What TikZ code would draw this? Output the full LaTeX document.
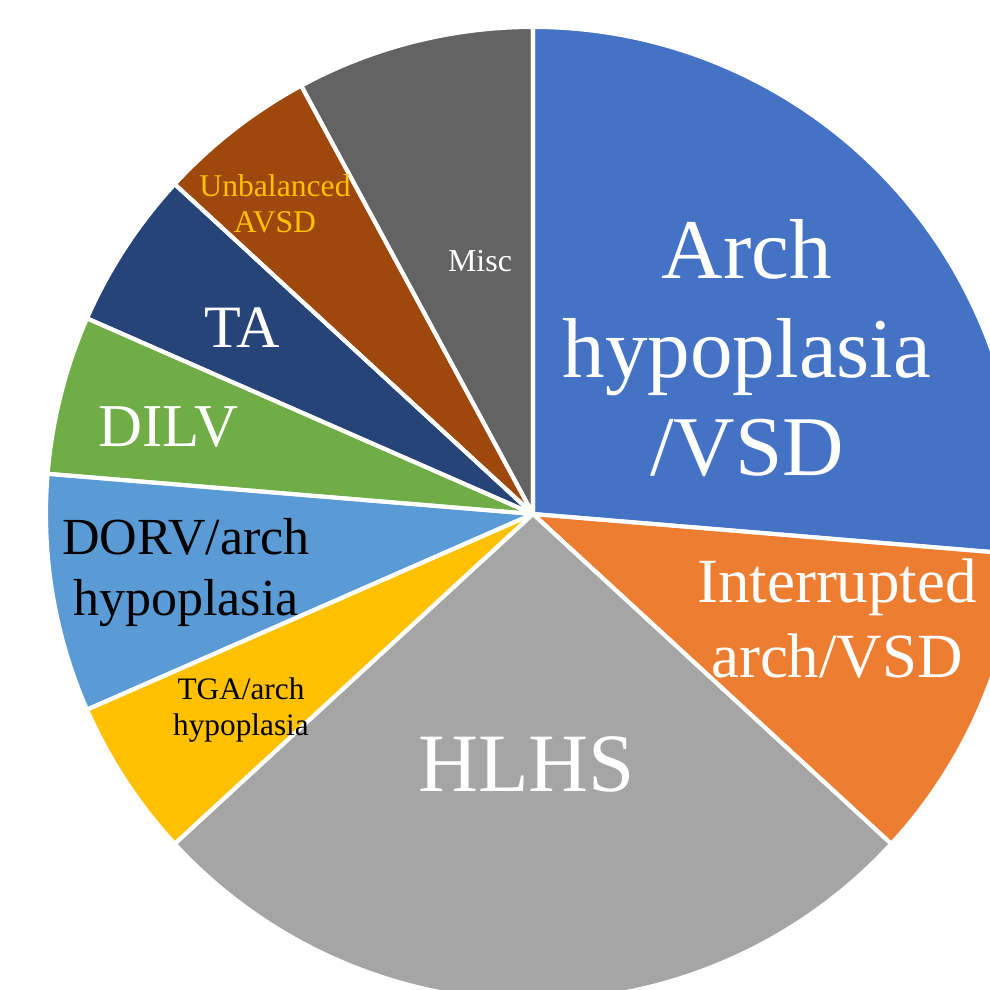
\documentclass[tikz,border=0pt]{standalone}
\usepackage{fontspec}
\setmainfont{Liberation Serif}
\definecolor{archc}{HTML}{4472C4}
\definecolor{iaac}{HTML}{ED7D31}
\definecolor{hlhsc}{HTML}{A5A5A5}
\definecolor{tgac}{HTML}{FFC000}
\definecolor{dorvc}{HTML}{5B9BD5}
\definecolor{dilvc}{HTML}{70AD47}
\definecolor{tac}{HTML}{264478}
\definecolor{avsdc}{HTML}{9E480E}
\definecolor{miscc}{HTML}{636363}
\definecolor{avsdtext}{HTML}{FFC000}
\begin{document}
\begin{tikzpicture}[x=0.01cm,y=0.01cm,
  sliceline/.style={draw=white, line width=1.15pt, line join=round},
  lab/.style={anchor=base, inner sep=0pt, outer sep=0pt}]
\useasboundingbox (0,0) rectangle (990,990);
\clip (0,0) rectangle (990,990);
\coordinate (c) at (533,476);
% slices: start angle / end angle / colour
\foreach \sa/\ea/\col in {90/-4.7368/archc, -4.7368/-42.6316/iaac, -42.6316/-137.3684/hlhsc,
  -137.3684/-156.3158/tgac, -156.3158/-184.7368/dorvc, -184.7368/-203.6842/dilvc,
  -203.6842/-222.6316/tac, -222.6316/-241.5789/avsdc, -241.5789/-270/miscc}{
  \fill[\col] (c) -- +(\sa:487) arc[start angle=\sa, end angle=\ea, radius=487] -- cycle;
}
\foreach \sa/\ea in {90/-4.7368, -4.7368/-42.6316, -42.6316/-137.3684,
  -137.3684/-156.3158, -156.3158/-184.7368, -184.7368/-203.6842,
  -203.6842/-222.6316, -222.6316/-241.5789, -241.5789/-270}{
  \draw[sliceline] (c) -- +(\sa:487) arc[start angle=\sa, end angle=\ea, radius=487] -- cycle;
}
% labels
\node[lab, text=white] (arch) at (747,711)
  {\fontsize{24.2}{27.9}\selectfont\begin{tabular}[t]{@{}c@{}}Arch\\hypoplasia\\/VSD\end{tabular}};
\node[lab, text=white] (iaa) at (837,387)
  {\fontsize{17.9}{21.1}\selectfont\begin{tabular}[t]{@{}c@{}}Interrupted\\arch/VSD\end{tabular}};
\node[lab, text=white] (hlhs) at (526.5,198)
  {\fontsize{23.6}{27}\selectfont HLHS};
\node[lab, text=black] (tga) at (241,290)
  {\fontsize{8.9}{10}\selectfont\begin{tabular}[t]{@{}c@{}}TGA/arch\\hypoplasia\end{tabular}};
\node[lab, text=black] (dorv) at (186,435)
  {\fontsize{14.8}{17.1}\selectfont\begin{tabular}[t]{@{}c@{}}DORV/arch\\hypoplasia\end{tabular}};
\node[lab, text=white] (dilv) at (168.5,543)
  {\fontsize{17.3}{20}\selectfont DILV};
\node[lab, text=white] (ta) at (242.5,642)
  {\fontsize{17.1}{20}\selectfont TA};
\node[lab, text=avsdtext] (avsd) at (275,793)
  {\fontsize{9}{10.2}\selectfont\begin{tabular}[t]{@{}c@{}}Unbalanced\\AVSD\end{tabular}};
\node[lab, text=white] (misc) at (480,718)
  {\fontsize{9.1}{10.5}\selectfont Misc};
\end{tikzpicture}
\end{document}
